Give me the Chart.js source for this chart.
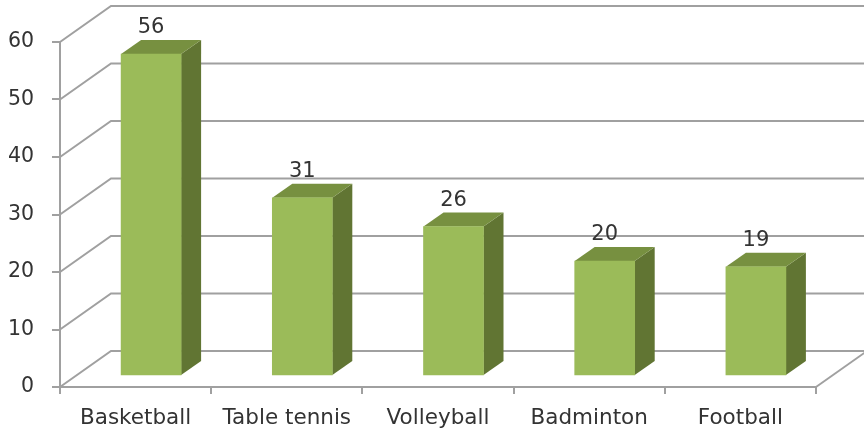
<!DOCTYPE html>
<html><head><meta charset="utf-8">
<style>html,body{margin:0;padding:0;background:#fff;overflow:hidden}canvas{display:block;filter:blur(0.5px)}</style>
<script src="https://cdn.jsdelivr.net/npm/chart.js@4"></script></head>
<body><canvas id="c" width="864" height="432"></canvas>
<script>
const categories = ['Basketball','Table tennis','Volleyball','Badminton','Football'];
const values = [56,31,26,20,19];
const yTicks = [0,10,20,30,40,50,60];

const FRONT='#9bbb59', SIDE='#617533', TOP='#779040', LINE='#a0a0a0', TEXT='#333333';
const WALL_DX=51, WALL_DY=36;      // depth of the back wall
const BAR_DX=15.5, BAR_DY=11;      // how far bars sit inside the floor
const SIDE_DX=20, SIDE_DY=14;      // depth of a bar
const FONT='"DejaVu Sans"';

const poly=(ctx,pts,fill)=>{ctx.beginPath();pts.forEach((p,i)=>i?ctx.lineTo(p[0],p[1]):ctx.moveTo(p[0],p[1]));ctx.closePath();ctx.fillStyle=fill;ctx.fill();};

const walls={id:'walls',beforeDatasetsDraw(chart){
  const {ctx,scales:{x,y},chartArea:a}=chart;
  ctx.save();ctx.strokeStyle=LINE;ctx.lineWidth=2;
  yTicks.forEach(v=>{
    const py=y.getPixelForValue(v);
    ctx.beginPath();ctx.moveTo(a.left,py);ctx.lineTo(a.left+WALL_DX,py-WALL_DY);ctx.lineTo(chart.width+4,py-WALL_DY);ctx.stroke();
  });
  const y0=y.getPixelForValue(0);
  ctx.beginPath();ctx.moveTo(a.right,y0);ctx.lineTo(a.right+WALL_DX,y0-WALL_DY);ctx.stroke();
  // bar depth faces
  chart.getDatasetMeta(0).data.forEach(b=>{
    const hw=b.width/2,l=b.x-hw+BAR_DX,r=b.x+hw+BAR_DX,t=b.y-BAR_DY,bt=b.base-BAR_DY;
    poly(ctx,[[r,t],[r+SIDE_DX,t-SIDE_DY],[r+SIDE_DX,bt-SIDE_DY],[r,bt]],SIDE);
    poly(ctx,[[l,t],[l+SIDE_DX,t-SIDE_DY],[r+SIDE_DX,t-SIDE_DY],[r,t]],TOP);
  });
  ctx.restore();
},
beforeDatasetDraw(chart){const c=chart.ctx;c.save();c.translate(BAR_DX,-BAR_DY);},
afterDatasetDraw(chart){chart.ctx.restore();},
afterDatasetsDraw(chart){
  const ctx=chart.ctx;ctx.save();ctx.fillStyle=TEXT;ctx.font='21px '+FONT;ctx.textAlign='center';ctx.textBaseline='middle';
  chart.getDatasetMeta(0).data.forEach((b,i)=>ctx.fillText(String(values[i]),b.x+BAR_DX,b.y-BAR_DY-26));
  ctx.restore();
}};

new Chart(document.getElementById('c'),{
  type:'bar',
  data:{labels:categories,datasets:[{data:values,backgroundColor:FRONT,barThickness:60,clip:false,borderWidth:0}]},
  plugins:[walls],
  options:{
    responsive:false,animation:false,
    layout:{padding:{top:42,right:48,left:0,bottom:0}},
    plugins:{legend:{display:false},tooltip:{enabled:false},title:{display:false}},
    scales:{
      x:{afterFit(s){s.height=45;},
        grid:{display:true,drawOnChartArea:false,drawTicks:true,tickLength:7,color:LINE,lineWidth:2,offset:true},
        border:{display:true,color:LINE,width:2},
        ticks:{color:TEXT,font:{family:FONT,size:21.5},padding:12,maxRotation:0,autoSkip:false}},
      y:{min:0,max:60,afterFit(s){s.width=60;},
        afterBuildTicks(s){s.ticks=yTicks.map(v=>({value:v}));},
        grid:{display:true,drawOnChartArea:false,drawTicks:true,tickLength:8,color:LINE,lineWidth:2},
        border:{display:true,color:LINE,width:2},
        ticks:{color:TEXT,font:{family:FONT,size:20.5},padding:18}}
    }
  }
});
</script></body></html>
